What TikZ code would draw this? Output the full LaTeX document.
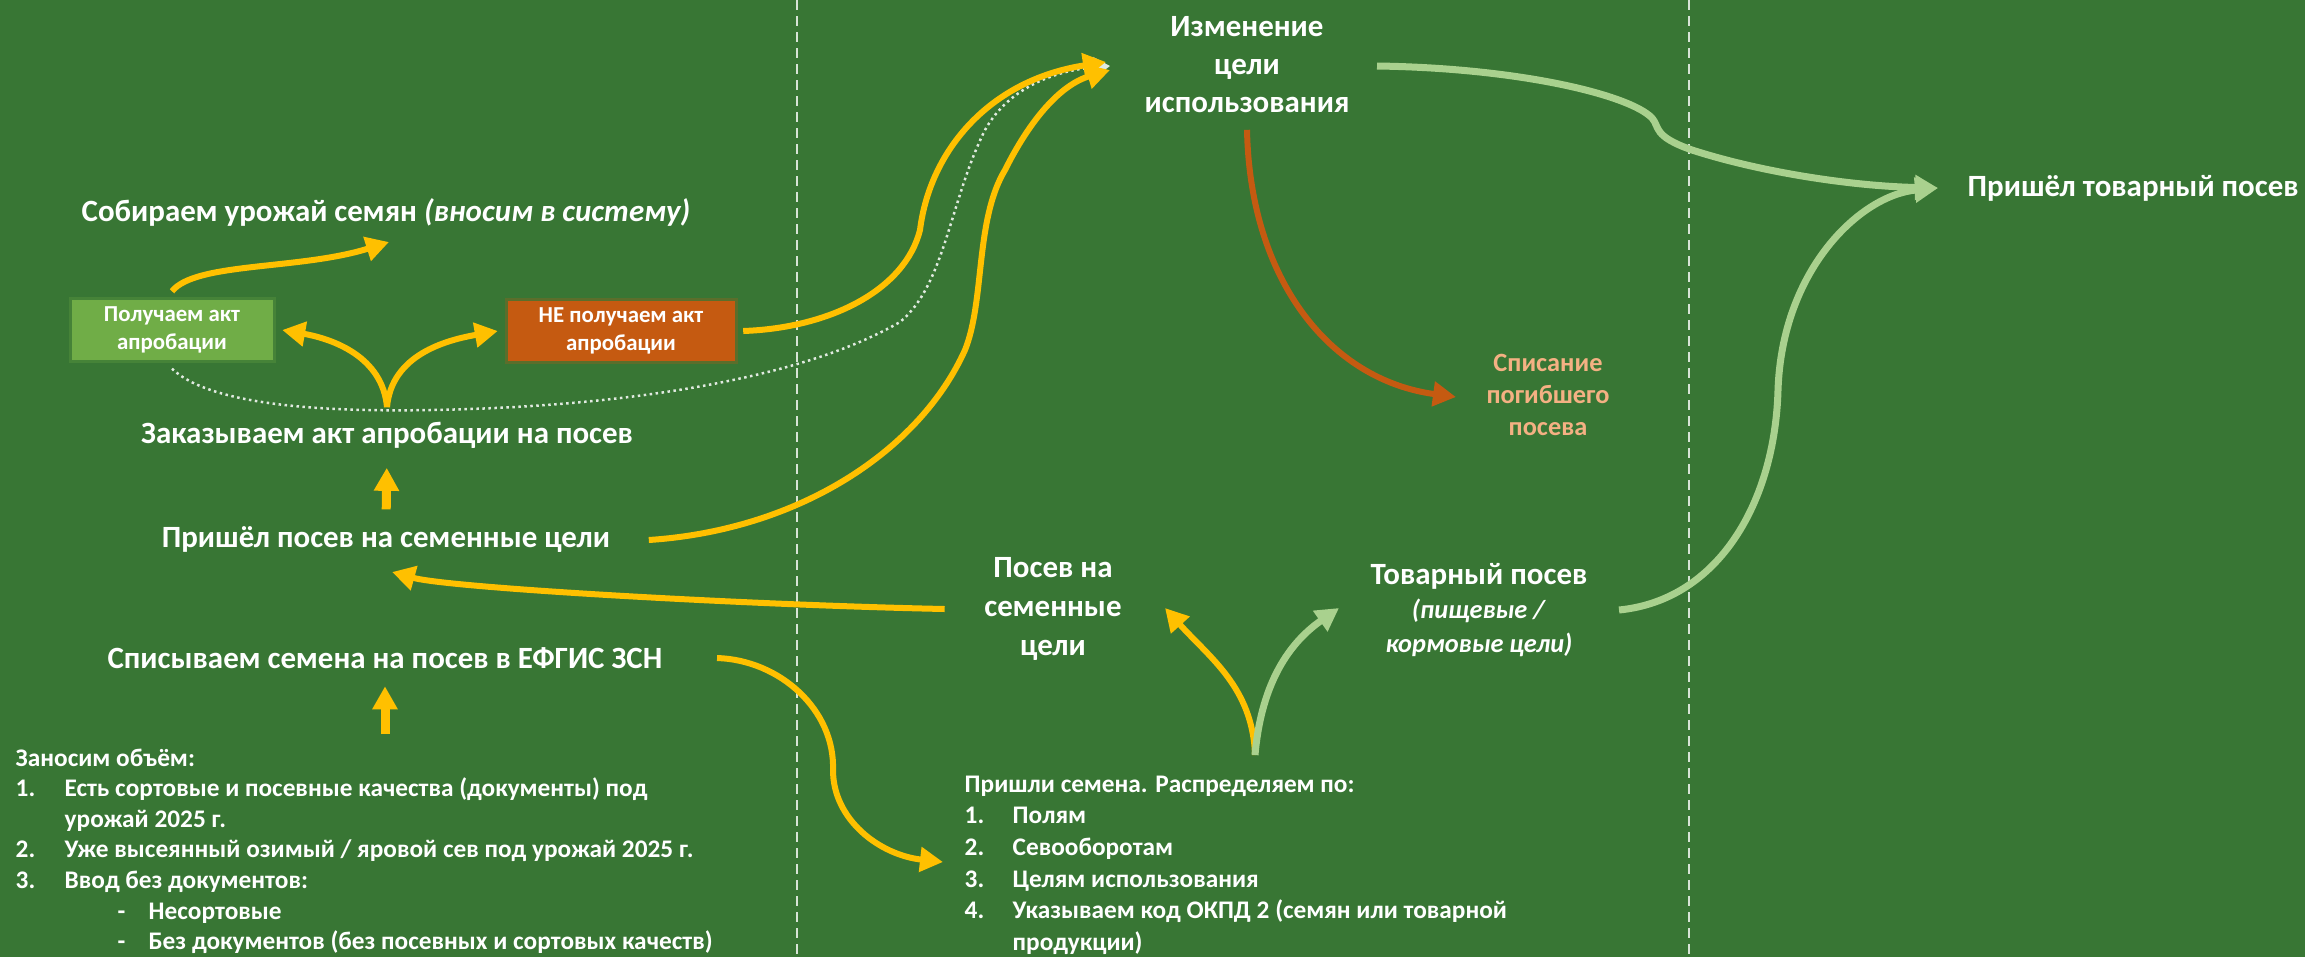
\documentclass[tikz,border=0pt]{standalone}
\usepackage{fontspec}
\setmainfont{Carlito}
\usetikzlibrary{arrows.meta}
\definecolor{fieldgreen}{RGB}{56,118,52}
\definecolor{gold}{RGB}{255,192,0}
\definecolor{leafgreen}{RGB}{169,209,142}
\definecolor{rust}{RGB}{197,90,17}
\definecolor{salmon}{RGB}{244,177,131}
\definecolor{boxgreen}{RGB}{112,173,71}
\newcommand{\SALMON}[1]{{\color{salmon}#1}}

\begin{document}
\begin{tikzpicture}[x=0.1mm,y=-0.1mm,
    lbl/.style={text=white,font=\bfseries\fontsize{8.8}{10.9}\selectfont,align=center,inner sep=0pt},
    listtext/.style={text=white,font=\bfseries\fontsize{7.2}{8.7}\selectfont,align=left,inner sep=0pt,anchor=north west},
    act/.style={text=white,font=\bfseries\fontsize{6.5}{8}\selectfont,align=center,inner sep=0pt,minimum height=6mm},
    bigtip/.style={-{Triangle[length=2.3mm,width=2.4mm]}},
    goldarrow/.style={bigtip,draw=gold,line width=0.6mm},
    leafarrow/.style={bigtip,draw=leafgreen,line width=0.7mm},
    rustarrow/.style={bigtip,draw=rust,line width=0.6mm},
    uparrow/.style={-{Triangle[length=2.3mm,width=2.4mm]},draw=gold,line width=0.9mm},
    dotpath/.style={-{Triangle[length=1.6mm,width=2mm]},draw=white!85!fieldgreen,line width=0.25mm,dash pattern=on 0.25mm off 0.35mm},
    sepline/.style={draw=white!80!fieldgreen,line width=0.25mm,dash pattern=on 1mm off 0.6mm}]

    % background and column separators
    \fill[fieldgreen] (0,0) rectangle (2305,957);
    \useasboundingbox (0,0) rectangle (2305,957);
    \draw[sepline] (797,0) -- (797,957);
    \draw[sepline] (1689,0) -- (1689,957);

    % left column
    \node (harvest) at (386,212) [lbl] {Собираем урожай семян \textit{(вносим в систему)}};
    \node (gotact) at (172,330) [act,fill=boxgreen,minimum width=20.1mm,
        preaction={draw=boxgreen,draw opacity=0.25,line width=0.6mm}] {Получаем акт\\апробации};
    \node (noact) at (621,331) [act,fill=rust,minimum width=22.7mm,
        preaction={draw=rust,draw opacity=0.25,line width=0.6mm}] {НЕ получаем акт\\апробации};
    \node (order) at (387,435) [lbl] {Заказываем акт апробации на посев};
    \node (sown) at (386,540) [lbl] {Пришёл посев на семенные цели};
    \node (writeoff) at (385,658) [lbl] {Списываем семена на посев в ЕФГИС ЗСН};
    \node (volume) at (15,748) [listtext] {Заносим объём:\\
        \makebox[4.9mm][l]{1.}Есть сортовые и посевные качества (документы) под\\
        \makebox[4.9mm]{}урожай 2025 г.\\
        \makebox[4.9mm][l]{2.}Уже высеянный озимый / яровой сев под урожай 2025 г.\\
        \makebox[4.9mm][l]{3.}Ввод без документов:\\
        \makebox[10.2mm]{}\makebox[3.1mm][l]{-}Несортовые\\
        \makebox[10.2mm]{}\makebox[3.1mm][l]{-}Без документов (без посевных и сортовых качеств)};

    % middle column
    \node (change) at (1247,65) [lbl,font=\bfseries\fontsize{8.8}{10.8}\selectfont] {Изменение\\цели\\использования};
    \node (loss) at (1548,395) [lbl,font=\bfseries\fontsize{7.5}{9.1}\selectfont] {\SALMON{Списание}\\\SALMON{погибшего}\\\SALMON{посева}};
    \node (seedcrop) at (1053,609) [lbl,font=\bfseries\fontsize{8.8}{11}\selectfont] {Посев на\\семенные\\цели};
    \node (commcrop) at (1479,610) [lbl,font=\bfseries\fontsize{8.8}{9.6}\selectfont] {Товарный посев\\
        \textit{\fontsize{7.5}{9}\selectfont(пищевые /}\\\textit{\fontsize{7.5}{9}\selectfont кормовые цели)}};
    \node (arrival) at (964,775) [listtext,font=\bfseries\fontsize{7.2}{9}\selectfont] {Пришли семена. Распределяем по:\\
        \makebox[4.8mm][l]{1.}Полям\\
        \makebox[4.8mm][l]{2.}Севооборотам\\
        \makebox[4.8mm][l]{3.}Целям использования\\
        \makebox[4.8mm][l]{4.}Указываем код ОКПД 2 (семян или товарной\\
        \makebox[4.8mm]{}продукции)};

    % right column
    \node (market) at (1967,188) [lbl,anchor=west] {Пришёл товарный посев};

    % free ends of the connectors
    \coordinate (harvestin) at (389,242);
    \coordinate (intop) at (1106,62);
    \coordinate (inmid) at (1110,66);
    \coordinate (inlow) at (1110,70);
    \coordinate (lossin) at (1456,397);
    \coordinate (changeout) at (1377,66);
    \coordinate (marketin) at (1938,188);
    \coordinate (sownin) at (392,572);
    \coordinate (arrivalout) at (1255,755);
    \coordinate (seedcropin) at (1165,608);
    \coordinate (commcropin) at (1339,608);
    \coordinate (arrivalin) at (943,862);

    % left column connectors
    \draw[uparrow,shorten <=1.7mm,shorten >=1.9mm] (sown.north) -- (order.south);
    \draw[uparrow,shorten <=1.4mm,shorten >=1.7mm] (volume.north -| writeoff.south) -- (writeoff.south);
    \draw[goldarrow] ([yshift=1.4mm]order.north) to[out=95,in=-10] ([xshift=0.9mm]gotact.east);
    \draw[goldarrow] ([yshift=1.4mm]order.north) to[out=85,in=190] ([xshift=-0.9mm]noact.west);
    \draw[goldarrow] ([yshift=0.8mm]gotact.north) .. controls (195,262) and (300,270) .. (harvestin);
    \draw[dotpath] ([yshift=-0.8mm]gotact.south) .. controls (210,405) and (320,412) .. (430,410)
        .. controls (620,407) and (800,380) .. (900,322)
        .. controls (945,285) and (950,200) .. (985,130)
        .. controls (1010,85) and (1060,70) .. (inmid);

    % towards the change of purpose
    \draw[goldarrow] ([xshift=0.8mm]noact.east) .. controls (830,328) and (905,290) .. (920,230)
        .. controls (930,150) and (990,80) .. (intop);
    \draw[goldarrow] ([xshift=3.8mm]sown.east) .. controls (800,530) and (920,450) .. (965,350)
        .. controls (985,300) and (975,220) .. (1005,170)
        .. controls (1030,120) and (1060,85) .. (inlow);
    \draw[rustarrow] ([yshift=-1.6mm]change.south) .. controls (1250,280) and (1330,380) .. (lossin);
    \draw[leafarrow] (changeout) .. controls (1520,68) and (1630,95) .. (1652,118)
        .. controls (1660,127) and (1652,136) .. (1692,150)
        .. controls (1760,172) and (1850,186) .. (marketin);

    % seeds arrive
    \draw[goldarrow] ([xshift=5.4mm]writeoff.east) .. controls (780,660) and (835,710) .. (833,770)
        .. controls (833,820) and (880,855) .. (arrivalin);
    \draw[goldarrow] (arrivalout) to[out=92,in=-48] (seedcropin);
    \draw[leafarrow] (arrivalout) to[out=85,in=215] (commcropin);
    \draw[goldarrow] ([xshift=-3.9mm]seedcrop.west) .. controls (750,605) and (450,588) .. (sownin);
    \draw[leafarrow] ([xshift=3.1mm]commcrop.east) .. controls (1720,600) and (1775,500) .. (1778,390)
        .. controls (1782,270) and (1860,195) .. (marketin);
\end{tikzpicture}
\end{document}
